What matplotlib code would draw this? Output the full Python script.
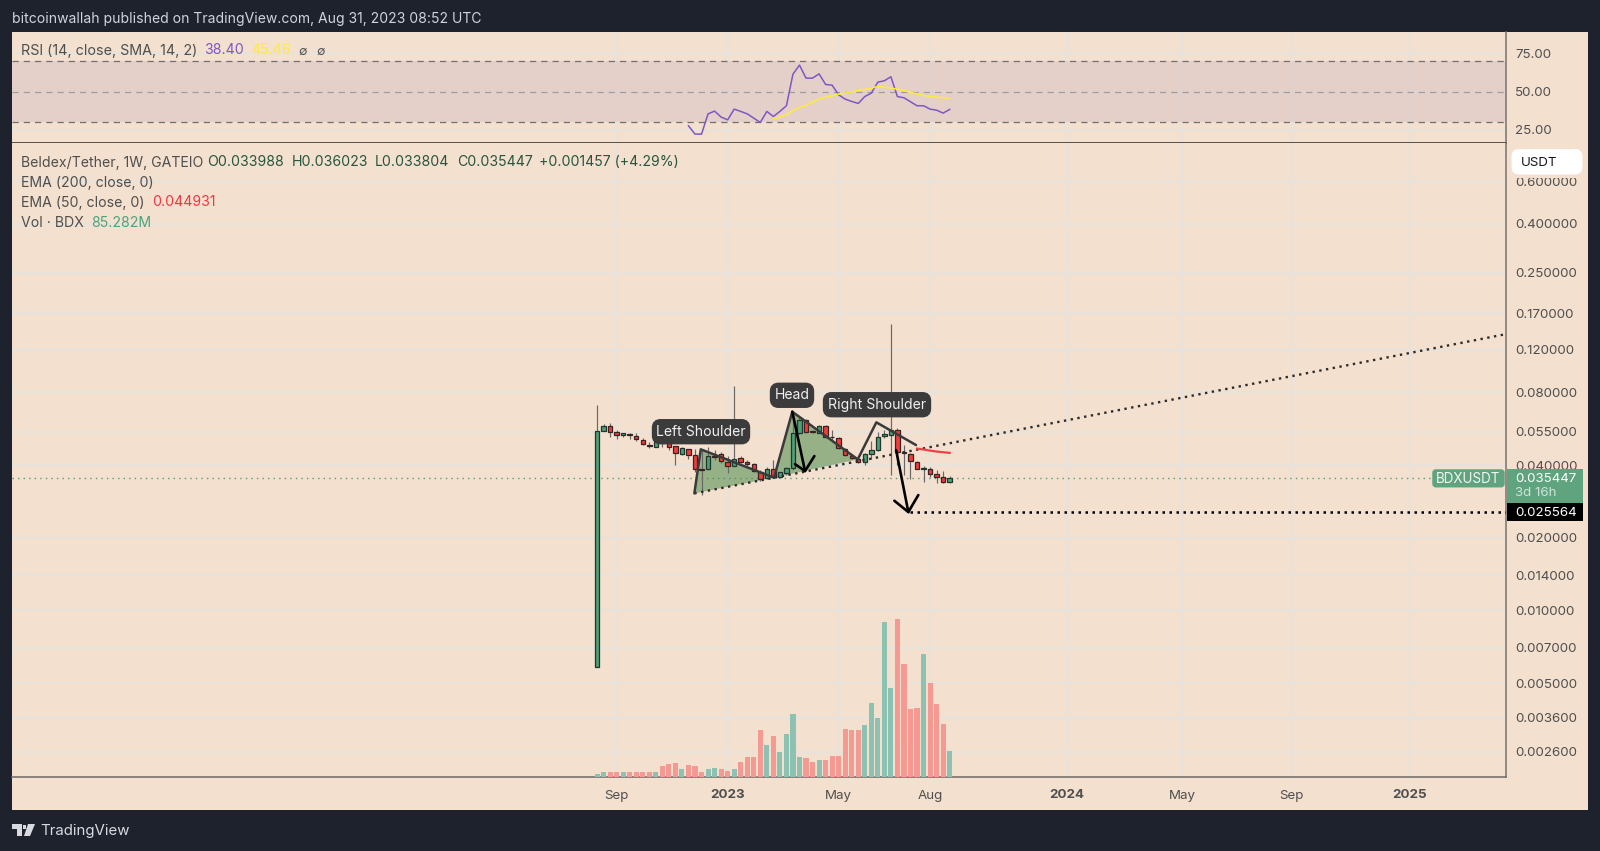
import matplotlib
matplotlib.use("Agg")
import matplotlib.pyplot as plt
from matplotlib.patches import Rectangle, FancyBboxPatch, Polygon
import numpy as np

plt.rcParams['font.family'] = ['Inter', 'DejaVu Sans']

W, H = 1600, 851
BG = '#f3e0cf'; FRAME = '#1e222d'; GRID = '#e8e2dd'; TXT = '#4f4f4f'
GREEN = '#4f9f76'; RED = '#f03c3c'

opens = [.00583,.0555,.0580,.0548,.0531,.0536,.0527,.0508,.0484,.0476,.0501,.0495,.0478,.0445,.0467,.0441,.0386,.0384,.0436,.0443,
         .0413,.0397,.0428,.0413,.0403,.0375,.0353,.0384,.0358,.0372,.0388,.0542,.0612,.0552,.0545,.0580,.0524,.0519,.0466,.0437,
         .0423,.0411,.0445,.0462,.0527,.0533,.0558,.0451,.0444,.0413,.0386,.0387,.0366,.0356,.033988]
highs = [.0709,.0591,.0600,.0558,.0545,.0543,.0543,.0517,.0499,.0517,.0510,.0504,.0480,.0473,.0467,.0464,.0462,.0476,.0462,.0454,
         .0434,.0850,.0434,.0420,.0409,.0381,.0392,.0420,.0375,.0393,.0663,.0632,.0622,.0558,.0586,.0586,.0558,.0524,.0471,.0443,
         .0426,.0447,.0503,.0546,.0558,.1534,.0569,.0486,.0450,.0417,.0396,.0393,.0381,.0378,.036023]
lows = [.00583,.0553,.0524,.0513,.0522,.0513,.0504,.0484,.0470,.0473,.0475,.0462,.0401,.0440,.0424,.0375,.0302,.0381,.0420,.0406,
        .0372,.0395,.0406,.0396,.0375,.0344,.0349,.0353,.0356,.0364,.0381,.0537,.0545,.0545,.0542,.0519,.0497,.0465,.0437,.0424,
        .0406,.0400,.0424,.0458,.0517,.0364,.0400,.0364,.0349,.0384,.0341,.0357,.0336,.0336,.033804]
closes = [.0553,.0580,.0548,.0531,.0541,.0531,.0511,.0489,.0480,.0504,.0492,.0476,.0447,.0469,.0441,.0386,.0383,.0436,.0433,.0414,
          .0397,.0425,.0412,.0403,.0379,.0349,.0384,.0358,.0374,.0388,.0542,.0612,.0550,.0548,.0580,.0524,.0521,.0469,.0440,.0426,
          .0411,.0443,.0462,.0525,.0538,.0558,.0454,.0449,.0417,.0387,.0389,.0366,.0356,.0340,.035447]
volumes = [11,15,17.5,17.5,17.5,17.5,17.5,17.5,17.5,17.5,35,42.6,47,27.3,38.3,35,15.3,27.3,30.6,27.3,
           20.8,27.3,48,66.7,64.5,153,105,135.5,81,140,205.5,65.6,61,48,55.7,55.7,70,70,156,153,
           155,169.4,243.7,193.5,509,291,519,372,223,225,404,310,240,173,85.282]
vol_up = [1,1,0,0,1,0,0,0,0,1,0,0,0,1,0,0,0,1,1,0,0,1,0,0,0,0,1,0,1,1,1,1,0,0,1,0,0,0,0,0,0,1,1,1,1,1,0,0,0,0,1,0,0,0,1]
rsi_start = 14
rsi_vals = [27.7,22.3,22.3,35.5,37.3,33.4,31.6,38.6,37.1,35.5,32.7,29.9,37.1,33.8,37.1,40.8,61.4,67.3,58.8,58.8,61.6,54.7,54.2,47.9,
            45.1,43.6,42.3,46.8,49,56.2,57.1,59.7,46.8,46,43.4,40.8,40.8,38.6,37.9,36,38.4]
sma_start = 27
sma_vals = [32.3,33.4,34.9,37.7,39.7,41,43.2,45.1,46.4,47.3,48.4,49,49.9,50.8,51.4,52.3,53.4,52.9,52.3,51.6,50.8,49.5,48.6,47.5,46.8,46.4,46,45.46]
ema_start = 49
ema50 = [.0468,.0464,.0459,.0455,.0452,.044931]

price_ticks = [.6,.4,.25,.17,.12,.08,.055,.04,.02,.014,.01,.007,.005,.0036,.0026]
rsi_ticks = [75,50,25]
time_ticks = [3,20,37,51,72,89.6,106.4,124.5]
time_labels = ['Sep','2023','May','Aug','2024','May','Sep','2025']
year_labels = {'2023','2024','2025'}

left_x = [14.9,15.88,27.1]; left_p = [.03054,.04647,.03547]
head_x = [27.1,29.9,39.92]; head_p = [.03547,.0665,.04223]
right_x = [39.92,42.77,48.85]; right_p = [.04223,.0601,.0484]
neck_x = [14.9,139.2]; neck_p = [.03054,.1394]
target_x = [47.9,139.2]; target_p = [.025564,.025564]
arrow1_x = [29.9,31.85]; arrow1_p = [.0665,.03778]
arrow1_barb_x = [30.3,31.85,33.28]; arrow1_barb_p = [.0404,.03778,.04358]
arrow2_x = [45.8,47.67]; arrow2_p = [.04615,.02556]
arrow2_barb_x = [45.53,47.67,49.2]; arrow2_barb_p = [.02846,.02556,.03005]

X0, X1 = -89.6, 139.2
LEFT, RIGHT = 12, 1506
fig = plt.figure(figsize=(W/100, H/100), dpi=100, facecolor=FRAME)

def fx(x): return x / W
def fy(y): return 1 - y / H
def rect_px(x0, y0, x1, y1): return [fx(x0), fy(y1), (x1-x0)/W, (y1-y0)/H]

fig.patches.append(Rectangle((fx(12), fy(809.5)), (1588-12)/W, (809.5-32)/H, transform=fig.transFigure,
                             facecolor=BG, edgecolor='none', zorder=-5))

ax_r = fig.add_axes(rect_px(LEFT, 32, RIGHT, 143), zorder=1)
ax = fig.add_axes(rect_px(LEFT, 143, RIGHT, 777), zorder=1)
for a in (ax_r, ax):
    a.set_facecolor(BG)
    a.set_xlim(X0, X1)
    a.tick_params(axis='both', length=0, labelsize=9.6, labelcolor=TXT)
    a.tick_params(axis='y', pad=6.5)
    a.set_axisbelow(True)
    a.grid(True, color=GRID, lw=1.5)
    a.set_xticks(time_ticks)
    for s in ('left', 'top'):
        a.spines[s].set_visible(False)
    a.spines['right'].set_color('#77736f'); a.spines['right'].set_linewidth(1.1)

# RSI
ax_r.set_ylim(16.5, 88.9)
ax_r.set_yticks(rsi_ticks)
ax_r.set_yticklabels([f'{v:.2f}' for v in rsi_ticks])
ax_r.yaxis.tick_right()
ax_r.set_xticklabels([])
ax_r.spines['bottom'].set_color('#2a2a2a'); ax_r.spines['bottom'].set_linewidth(1.1)
ax_r.axhspan(30, 70, facecolor='#d8c2c4', alpha=.5, lw=0, zorder=0.6)
for lev, al in ((70, 1), (50, .55), (30, 1)):
    ax_r.axhline(lev, color='#707070', lw=.9, ls=(0, (5, 4)), alpha=al, zorder=1)
ax_r.plot(range(rsi_start, rsi_start+len(rsi_vals)), rsi_vals, color='#7e57c2', lw=1.1, zorder=3)
ax_r.plot(range(sma_start, sma_start+len(sma_vals)), sma_vals, color='#ffeb3b', lw=1.1, zorder=3)

# Price
ax.set_yscale('log')
ax.set_ylim(.002044, .862)
ax.set_yticks(price_ticks)
ax.set_yticklabels([f'{v:.6f}' for v in price_ticks])
ax.minorticks_off()
ax.set_xticklabels(time_labels)
for lab in ax.get_xticklabels():
    if lab.get_text() in year_labels:
        lab.set_fontweight('bold')
ax.tick_params(axis='x', pad=9)
ax.spines['bottom'].set_color('#6f6a65'); ax.spines['bottom'].set_linewidth(1.1)

ax.axhline(closes[-1], color=GREEN, lw=1, ls=(0, (1, 3)), zorder=1)

ax.fill(left_x, left_p, color='#4c8c4a', alpha=.55, lw=0, zorder=1.5)
ax.fill(head_x, head_p, color='#4c8c4a', alpha=.55, lw=0, zorder=1.5)

idx = np.arange(len(opens))
for i in idx:
    up = closes[i] >= opens[i]
    ax.vlines(i, lows[i], highs[i], color='#686868', lw=.85, zorder=2)
    ax.bar(i, abs(closes[i]-opens[i]), bottom=min(opens[i], closes[i]), width=.68,
           facecolor=GREEN if up else RED, edgecolor='#20352b' if up else '#3a2222', lw=.9, zorder=3)

ax.plot(neck_x, neck_p, color='#2b2b2b', lw=1.7, ls=(0, (1, 1.9)), zorder=4)
ax.plot(target_x, target_p, color='#000000', lw=1.8, ls=(0, (1, 1.8)), zorder=4)
for xs, ps in ((left_x, left_p), (head_x, head_p), (right_x, right_p)):
    ax.plot(xs, ps, color='#3a3a3a', lw=1.8, zorder=4, solid_capstyle='round')
ax.plot(range(ema_start, ema_start+len(ema50)), ema50, color='#f0414a', lw=1.6, zorder=4)
for xs, ps in ((arrow1_x, arrow1_p), (arrow1_barb_x, arrow1_barb_p), (arrow2_x, arrow2_p), (arrow2_barb_x, arrow2_barb_p)):
    ax.plot(xs, ps, color='#000000', lw=1.9, zorder=5, solid_capstyle='round')

# Volume overlay
ax_v = ax.twinx()
ax_v.set_zorder(2)
ax_v.patch.set_visible(False)
ax_v.set_ylim(0, 2080)
ax_v.axis('off')
ax_v.bar(idx, volumes, width=.78, color=['#8dc2b2' if u else '#f59a92' for u in vol_up], lw=0)
ax.yaxis.tick_right()
ax.yaxis.set_label_position('right')

def T(x, y, s, color=TXT, size=10.15, ha='left', z=8, **kw):
    return fig.text(fx(x), fy(y), s, color=color, fontsize=size, ha=ha, va='center', zorder=z, **kw)

T(12, 18.5, 'bitcoinwallah published on TradingView.com, Aug 31, 2023 08:52 UTC', color='#d1d4dc', size=10.05)

T(21, 50.5, 'RSI (14, close, SMA, 14, 2)', size=10.3)
T(204, 50.5, '38.40', color='#7e57c2')
T(251, 50.5, '45.46', color='#ffeb3b')
T(298, 51.5, '∅', color='#555555', size=9)
T(316, 51.5, '∅', color='#555555', size=9)

DG = '#27553d'
T(21, 162.5, 'Beldex/Tether, 1W, GATEIO')
T(207, 162.5, 'O0.033988', color=DG)
T(292, 162.5, 'H0.036023', color=DG)
T(375, 162.5, 'L0.033804', color=DG)
T(457, 162.5, 'C0.035447', color=DG)
T(539, 162.5, '+0.001457 (+4.29%)', color=DG)
T(21, 182.5, 'EMA (200, close, 0)')
T(21, 202.5, 'EMA (50, close, 0)')
T(152, 202.5, '0.044931', color='#f23645')
T(21, 222.5, 'Vol · BDX')
T(91, 222.5, '85.282M', color='#4fa37c')

for cx, cy, w, s in ((701, 431.7, 98, 'Left Shoulder'), (792, 395.3, 44, 'Head'), (877, 404.7, 108, 'Right Shoulder')):
    fig.patches.append(FancyBboxPatch((fx(cx-w/2+4), fy(cy+8.5)), (w-8)/W, 17/H, transform=fig.transFigure,
                                      boxstyle=matplotlib.patches.BoxStyle('Round', pad=0, rounding_size=0.0028),
                                      mutation_aspect=W/H, facecolor='#3b3b3b', edgecolor='#3b3b3b', lw=6, zorder=6))
    T(cx, cy, s, color='#f0f0f0', ha='center', size=10.1)

def box(x0, y0, x1, y1, c, z=5, inset=0):
    if inset:
        p = FancyBboxPatch((fx(x0+inset), fy(y1-inset)), (x1-x0-2*inset)/W, (y1-y0-2*inset)/H, transform=fig.transFigure,
                           boxstyle=matplotlib.patches.BoxStyle('Round', pad=0, rounding_size=inset*0.0006),
                           mutation_aspect=W/H, facecolor=c, edgecolor=c, lw=inset*1.25, zorder=z)
    else:
        p = Rectangle((fx(x0), fy(y1)), (x1-x0)/W, (y1-y0)/H, transform=fig.transFigure, facecolor=c, edgecolor='none', zorder=z)
    fig.patches.append(p)

box(1432, 469, 1505, 487.7, '#5fa47e', inset=2)
box(1506.5, 469, 1583, 503, '#5fa47e')
box(1506.5, 503, 1583, 521, '#000000', z=5.5)
T(1468, 478.8, 'BDXUSDT', color='#f4f4f4', ha='center', size=9.7)
T(1515, 478.8, '0.035447', color='#ffffff', size=9.6)
T(1515, 493.5, '3d 16h', color='#cfe4d8', size=9.6)
T(1515, 512.5, '0.025564', color='#ffffff', size=9.6)
box(1508, 174, 1586, 178, BG, z=4.5)
box(1511, 148.5, 1583, 175, '#ffffff', inset=4)
T(1521, 162.5, 'USDT', color='#131722', size=9.6)

LOGO = '#d8dae0'
for pts in ([(12, 824), (22, 824), (22, 836), (17, 836), (17, 829), (12, 829)],
            [(28, 824), (35, 824), (30, 836), (24, 836)],
            [(23, 824.5), (26, 824.5), (26, 829), (23, 829)]):
    fig.patches.append(Polygon([(fx(x), fy(y)) for x, y in pts], closed=True, transform=fig.transFigure,
                               facecolor=LOGO, edgecolor='none', zorder=5))
T(40, 831, 'TradingView', color=LOGO, size=10.8)

fig.savefig('out.png', dpi=100, facecolor=FRAME)
